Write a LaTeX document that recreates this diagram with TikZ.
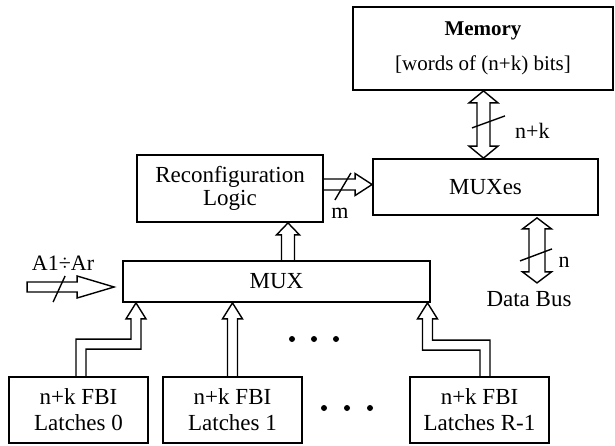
\documentclass[tikz,border=0pt]{standalone}
\usepackage{fontspec}
\setmainfont{Liberation Serif}
\usetikzlibrary{calc}
\begin{document}
\begin{tikzpicture}[x=1pt,y=-1pt,
  box/.style={draw, line width=1.8pt, inner sep=0pt, align=center,
              font=\fontsize{23}{26}\selectfont},
  hollow/.style={draw, line width=1.4pt, line join=miter},
  slash/.style={line width=1.4pt},
  lbl/.style={inner sep=0pt, font=\fontsize{22}{26}\selectfont},
  dot/.style={fill=black, circle, inner sep=0pt, minimum size=6pt}]
\fill[white] (0,0) rectangle (615,445);
\useasboundingbox (0,0) rectangle (615,445);

% blocks
\node[box, minimum width=260pt, minimum height=83pt,
      font=\fontsize{21}{25}\selectfont] (mem) at (483,48.5)
      {\textbf{Memory}\\[10pt]{[}words of (n+k) bits{]}};
\node[box, minimum width=225pt, minimum height=56pt] (muxes) at (485.5,187) {MUXes};
\node[box, minimum width=186pt, minimum height=67pt,
      font=\fontsize{23}{23}\selectfont] (rec) at (230,188.5)
      {\raisebox{-3pt}{Reconfiguration}\\\raisebox{-3pt}{Logic}};
\node[box, minimum width=307pt, minimum height=41pt] (mux) at (276.5,281.5) {\raisebox{-3pt}{MUX}};
\node[box, minimum width=139pt, minimum height=66pt] (l0) at (78.5,410) {n+k FBI\\Latches 0};
\node[box, minimum width=139pt, minimum height=66pt] (l1) at (232.5,410) {n+k FBI\\Latches 1};
\node[box, minimum width=139pt, minimum height=66pt] (lR) at (479.5,410) {n+k FBI\\Latches R-1};

% Memory <-> MUXes bus
\coordinate (mt) at ([xshift=0.5pt]mem.south);
\coordinate (mb) at (mt |- muxes.north);
\draw[hollow] (mt) -- ($(mt)+(14.5,12)$) -- ($(mt)+(6.5,12)$) -- ($(mb)+(6.5,-12)$)
  -- ($(mb)+(14.5,-12)$) -- (mb) -- ($(mb)+(-14.5,-12)$) -- ($(mb)+(-6.5,-12)$)
  -- ($(mt)+(-6.5,12)$) -- ($(mt)+(-14.5,12)$) -- cycle;
\draw[slash] ($(mt)+(-11.5,37)$) -- ($(mt)+(21.5,25)$);
\node[lbl, anchor=west] (lnk) at (515,131) {n+k};

% MUXes <-> data bus
\coordinate (dt) at ([xshift=51.5pt,yshift=-2pt]muxes.south);
\coordinate (db) at ($(dt)+(0,65)$);
\draw[hollow] (dt) -- ($(dt)+(14.5,11)$) -- ($(dt)+(8,11)$) -- ($(db)+(8,-11)$)
  -- ($(db)+(14.5,-11)$) -- (db) -- ($(db)+(-14.5,-11)$) -- ($(db)+(-8,-11)$)
  -- ($(dt)+(-8,11)$) -- ($(dt)+(-14.5,11)$) -- cycle;
\draw[slash] ($(dt)+(-17,43)$) -- ($(dt)+(15,31)$);
\node[lbl] (ln) at (564,262) {n};
\node[lbl, font=\fontsize{23}{26}\selectfont] (ldb) at (529,299) {Data Bus};

% Reconfiguration logic -> MUXes
\coordinate (rs) at ([yshift=4pt]rec.east);
\coordinate (rt) at (rs -| muxes.west);
\draw[hollow] ($(rs)+(0,-5.5)$) -- ($(rt)+(-17,-5.5)$) -- ($(rt)+(-17,-11)$) -- (rt)
  -- ($(rt)+(-17,11)$) -- ($(rt)+(-17,5.5)$) -- ($(rs)+(0,5.5)$);
\draw[slash] ($(rs)+(11,15.5)$) -- ($(rs)+(27,-11.5)$);
\node[lbl] (lm) at (340,213) {m};

% MUX -> Reconfiguration logic
\coordinate (ps) at ([xshift=11.5pt]mux.north);
\coordinate (pt) at (ps |- rec.south);
\draw[hollow] ($(ps)+(-6.5,0)$) -- ($(pt)+(-6.5,12)$) -- ($(pt)+(-11.5,12)$) -- (pt)
  -- ($(pt)+(11.5,12)$) -- ($(pt)+(6.5,12)$) -- ($(ps)+(6.5,0)$);

% address input A1..Ar
\coordinate (at) at ([xshift=-8pt,yshift=-5.5pt]mux.west);
\coordinate (as) at ($(at)+(-87,0)$);
\draw[hollow] ($(as)+(0,-5)$) -- ($(at)+(-37,-5)$) -- ($(at)+(-37,-11)$) -- (at)
  -- ($(at)+(-37,11)$) -- ($(at)+(-37,5)$) -- ($(as)+(0,5)$) -- cycle;
\draw[slash] ($(as)+(26,15)$) -- ($(as)+(38,-11)$);
\node[lbl] (la) at (63,263) {A1÷Ar};

% latch 0 -> MUX (bent bus)
\coordinate (s0) at ([xshift=2.5pt]l0.north);
\coordinate (t0) at ([xshift=-140.5pt]mux.south);
\coordinate (k0) at ($(s0)+(0,-32)$);
\draw[hollow] ($(s0)+(-5,0)$) -- ($(k0)+(-5,-5)$) -- ($(k0 -| t0)+(-5,-5)$)
  -- ($(t0)+(-5,16)$) -- ($(t0)+(-10,16)$) -- (t0) -- ($(t0)+(10,16)$)
  -- ($(t0)+(5,16)$) -- ($(k0 -| t0)+(5,5)$) -- ($(k0)+(5,5)$) -- ($(s0)+(5,0)$);

% latch 1 -> MUX
\coordinate (s1) at (l1.north);
\coordinate (t1) at (s1 |- mux.south);
\draw[hollow] ($(s1)+(-5,0)$) -- ($(t1)+(-5,16)$) -- ($(t1)+(-10,16)$) -- (t1)
  -- ($(t1)+(10,16)$) -- ($(t1)+(5,16)$) -- ($(s1)+(5,0)$);

% latch R-1 -> MUX (bent bus)
\coordinate (sR) at ([xshift=5.5pt]lR.north);
\coordinate (tR) at ([xshift=151pt]mux.south);
\coordinate (kR) at ($(sR)+(0,-31)$);
\draw[hollow] ($(sR)+(-5,0)$) -- ($(kR)+(-5,5)$) -- ($(kR -| tR)+(-5,5)$)
  -- ($(tR)+(-5,16)$) -- ($(tR)+(-10,16)$) -- (tR) -- ($(tR)+(10,16)$)
  -- ($(tR)+(5,16)$) -- ($(kR -| tR)+(5,-5)$) -- ($(kR)+(5,-5)$) -- ($(sR)+(5,0)$);

% ellipses
\node[dot] (u1) at (292,339) {};
\node[dot] (u2) at (314,339) {};
\node[dot] (u3) at (336,339) {};
\node[dot] (v1) at (324,408) {};
\node[dot] (v2) at (347,408) {};
\node[dot] (v3) at (370,408) {};
\end{tikzpicture}
\end{document}
